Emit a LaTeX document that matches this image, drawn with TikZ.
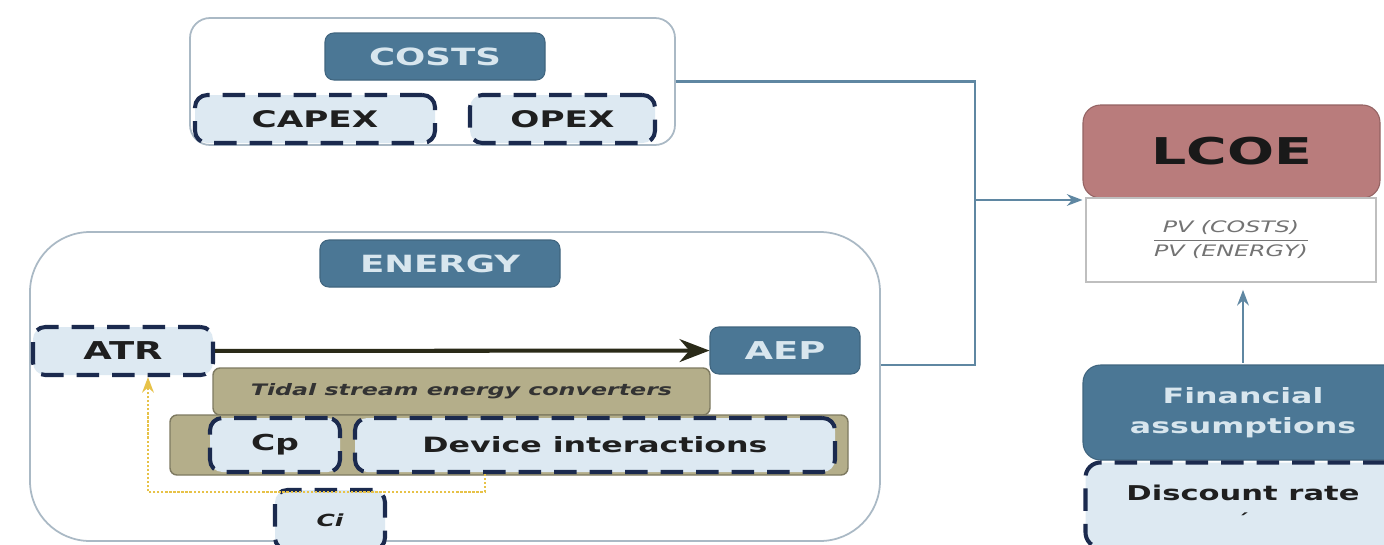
\documentclass[tikz,border=0pt]{standalone}
\usepackage{fontspec}
\setmainfont{DejaVu Sans}[FakeStretch=1.5]
\usepackage{tikz}
\usetikzlibrary{arrows.meta,calc,positioning}
\definecolor{steelhead}{RGB}{75,119,149}
\definecolor{headtext}{RGB}{216,230,238}
\definecolor{iceblue}{RGB}{221,233,242}
\definecolor{navydash}{RGB}{27,42,78}
\definecolor{khaki}{RGB}{180,174,138}
\definecolor{panelline}{RGB}{170,185,197}
\definecolor{linkblue}{RGB}{95,135,162}
\definecolor{lcoerose}{RGB}{185,124,124}
\definecolor{feedgold}{RGB}{231,194,72}
\definecolor{atrline}{RGB}{42,42,24}

\begin{document}
\begin{tikzpicture}[>=Stealth,
  panel/.style={draw=panelline,line width=1pt,fill=white,inner sep=0pt},
  head/.style={fill=steelhead,draw=steelhead!85!black,line width=0.6pt,text=headtext,
    font=\bfseries,rounded corners=5pt,inner sep=0pt},
  dashbox/.style={fill=iceblue,draw=navydash,line width=2.3pt,
    dash pattern=on 0.45cm off 0.26cm,rounded corners=7pt,inner sep=0pt,
    text=black!88,font=\bfseries},
  olivebox/.style={fill=khaki,draw=khaki!70!black,line width=0.8pt,
    rounded corners=4pt,inner sep=0pt},
  link/.style={draw=linkblue,line width=1.3pt},
  feed/.style={draw=feedgold,densely dotted,line width=1.3pt}]

\useasboundingbox (0,0) rectangle (27.68,-10.88);

%% ── costs panel ──────────────────────────────────────────────────────────────
\node[panel,rounded corners=0.4cm,minimum width=9.7cm,minimum height=2.54cm]
  (costsbox) at (8.65,-1.63) {};
\node[head,minimum width=4.4cm,minimum height=0.94cm,font=\bfseries\fontsize{13.5}{15}\selectfont]
  (costs) at (8.7,-1.13) {COSTS};
\node[dashbox,minimum width=4.8cm,minimum height=0.96cm,font=\bfseries\fontsize{13}{15}\selectfont]
  (capex) at (6.3,-2.38) {CAPEX};
\node[dashbox,minimum width=3.7cm,minimum height=0.96cm,font=\bfseries\fontsize{13}{15}\selectfont]
  (opex) at (11.25,-2.38) {OPEX};

%% ── energy panel ─────────────────────────────────────────────────────────────
\node[panel,rounded corners=1.2cm,minimum width=17cm,minimum height=6.18cm]
  (energybox) at (9.1,-7.73) {};
\node[head,minimum width=4.8cm,minimum height=0.94cm,font=\bfseries\fontsize{13.5}{15}\selectfont]
  (energy) at (8.8,-5.27) {ENERGY};
\node[dashbox,minimum width=3.6cm,minimum height=0.96cm,font=\bfseries\fontsize{14}{16}\selectfont]
  (atr) at (2.46,-7.02) {ATR};
\node[head,minimum width=3.0cm,minimum height=0.94cm,font=\bfseries\fontsize{14}{16}\selectfont]
  (aep) at (15.7,-7.01) {AEP};

%% converter block
\node[olivebox,minimum width=9.94cm,minimum height=0.94cm,
  font=\bfseries\itshape\fontsize{9}{11}\selectfont,text=black!80]
  (tidal) at (9.23,-7.83) {Tidal stream energy converters};
\node[olivebox,minimum width=13.56cm,minimum height=1.2cm]
  (olive) at (10.18,-8.9) {};
\node[dashbox,minimum width=2.6cm,minimum height=1.08cm,font=\bfseries\fontsize{12.5}{14}\selectfont]
  (cp) at (5.5,-8.9) {Cp};
\node[dashbox,minimum width=9.6cm,minimum height=1.08cm,font=\bfseries\fontsize{12}{14}\selectfont]
  (dev) at (11.9,-8.9) {Device interactions};
\node[dashbox,minimum width=2.2cm,minimum height=1.2cm,font=\bfseries\itshape\fontsize{9.5}{11}\selectfont]
  (ci) at (6.6,-10.4) {Ci};

%% ATR feeds AEP
\draw[atrline,line width=2.3pt,-{Stealth[length=17pt,width=13pt]}] (atr) -- (aep);

%% interaction feedback (dotted)
\coordinate (fbR) at (9.7,-9.84);
\coordinate (fbL) at (2.96,-9.84);
\draw[feed,->] (fbR |- dev.south) -- (fbR) -- (fbL) -- (fbL |- atr.south);

%% ── LCOE column ──────────────────────────────────────────────────────────────
\node[fill=lcoerose,draw=lcoerose!80!black,line width=0.6pt,rounded corners=0.35cm,
  inner sep=0pt,minimum width=5.94cm,minimum height=1.86cm,
  font=\bfseries\fontsize{21}{24}\selectfont,text=black!90]
  (lcoe) at (24.63,-3.03) {LCOE};
\node[draw=black!25,line width=1pt,fill=white,inner sep=0pt,
  minimum width=5.8cm,minimum height=1.68cm,text=black!55]
  (formula) at (24.62,-4.8)
  {$\displaystyle\frac{\textit{\fontsize{9}{10}\selectfont PV (COSTS)}}
                      {\textit{\fontsize{9}{10}\selectfont PV (ENERGY)}}$};

\node[head,rounded corners=0.35cm,minimum width=6.4cm,minimum height=1.9cm,align=center,
  font=\bfseries\fontsize{12}{17}\selectfont]
  (fin) at (24.86,-8.25) {Financial\\assumptions};
\node[dashbox,rounded corners=0.3cm,minimum width=6.3cm,minimum height=1.7cm,align=center,
  font=\bfseries\fontsize{11.6}{16}\selectfont]
  (disc) at (24.86,-10.1) {Discount rate\\[-2pt]\fontsize{9}{9}\selectfont ´};

%% ── connectors ───────────────────────────────────────────────────────────────
\coordinate (jn) at (19.5,-4.0);
\draw[link] (costsbox.east) -| (jn) |- ([yshift=0.43cm]energybox.east);
\draw[link,->] (jn) -- (jn -| lcoe.south west);
\draw[link,->,shorten <=1pt,shorten >=4pt] (fin.north) -- (fin.north |- formula.south);

\end{tikzpicture}
\end{document}
